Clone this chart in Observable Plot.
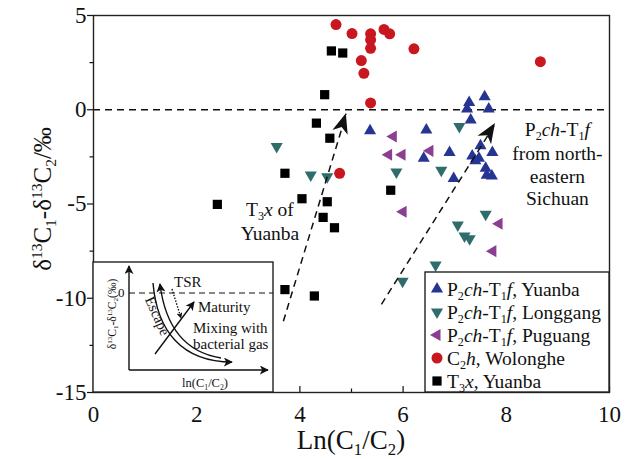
<!DOCTYPE html>
<html>
<head>
<meta charset="utf-8">
<script src="https://cdn.jsdelivr.net/npm/d3@7"></script>
<script src="https://cdn.jsdelivr.net/npm/@observablehq/plot@0.6"></script>
<style>
  html, body { margin: 0; padding: 0; background: #fff; }
  #chart svg { display: block; }
</style>
</head>
<body>
<div id="chart"></div>
<script>
// ln(C1/C2) versus δ13C1-δ13C2 for natural gases of the Sichuan Basin
// Each point is [ln(C1/C2), δ13C1-δ13C2 (‰)]

// P2ch-T1f, Yuanba
const yuanbaP2ch = [
  [5.36, -1.12], [6.45, -1.08], [6.40, -2.57], [6.90, -2.27], [6.98, -3.65],
  [7.28, 0.39], [7.58, 0.69], [7.24, 0.04], [7.66, 0.04], [7.31, -0.55],
  [7.50, -1.91], [7.73, -2.27], [7.34, -2.45], [7.47, -2.57], [7.40, -2.71],
  [7.60, -3.10], [7.62, -3.48], [7.72, -3.52]
];
// P2ch-T1f, Longgang
const longgang = [
  [3.55, -1.95], [4.21, -3.46], [4.53, -3.55], [5.87, -3.30], [7.09, -0.89],
  [6.74, -3.21], [7.60, -5.55], [7.06, -6.12], [7.19, -6.70], [7.29, -6.85],
  [6.63, -8.24], [5.99, -9.10]
];
// P2ch-T1f, Puguang
const puguang = [
  [5.81, -1.42], [5.72, -2.39], [5.98, -2.39], [6.52, -2.18], [6.00, -5.41],
  [7.86, -6.05], [7.74, -7.50]
];
// C2h, Wolonghe
const wolonghe = [
  [4.70, 4.52], [5.01, 4.04], [5.37, 4.03], [5.37, 3.71], [5.37, 3.26],
  [5.63, 4.26], [5.74, 4.03], [6.21, 3.23], [5.19, 2.61], [5.24, 1.93],
  [5.37, 0.36], [4.77, -3.37], [8.66, 2.55]
];
// T3x, Yuanba
const yuanbaT3x = [
  [2.40, -5.02], [3.71, -3.37], [4.04, -4.72], [4.53, -4.88], [4.45, -5.71],
  [4.67, -6.26], [4.32, -0.71], [4.58, -1.51], [4.48, 0.80], [4.61, 3.12],
  [4.83, 3.01], [5.76, -4.27], [3.71, -9.54], [4.28, -9.88]
];

// Axis ticks
const xTicks = [0, 2, 4, 6, 8, 10];
const xMinor = [1, 3, 5, 7, 9];
const yTicks = [5, 0, -5, -10, -15];
const yMinor = [2.5, -2.5, -7.5, -12.5];

// Trend arrows [x1, y1, x2, y2]
const trendArrows = [
  [3.68, -11.22, 4.90, -0.21],
  [5.58, -10.32, 7.79, -0.73]
];

// Annotation labels: [x, y of first baseline, lines]
const notes = [
  [3.43, -5.65, [[["T"], ["3", "sub"], ["x", "i"], [" of"]], [["Yuanba"]]]],
  [9.0, -1.4, [[["P"], ["2", "sub"], ["ch", "i"], ["-T"], ["1", "sub"], ["f", "i"]], [["from north-"]], [["eastern"]], [["Sichuan"]]]]
];

const BLUE = "#263592", TEAL = "#2f6d6c", PURPLE = "#8c3f92", RED = "#c8171e", BLACK = "#000";

const series = [
  {data: yuanbaP2ch, symbol: d3.symbolTriangle, rotate: 0, fill: BLUE, r: 4.5,
   label: [["P"], ["2", "sub"], ["ch", "i"], ["-T"], ["1", "sub"], ["f", "i"], [", Yuanba"]]},
  {data: longgang, symbol: d3.symbolTriangle, rotate: 180, fill: TEAL, r: 4.5,
   label: [["P"], ["2", "sub"], ["ch", "i"], ["-T"], ["1", "sub"], ["f", "i"], [", Longgang"]]},
  {data: puguang, symbol: d3.symbolTriangle, rotate: -90, fill: PURPLE, r: 4.5,
   label: [["P"], ["2", "sub"], ["ch", "i"], ["-T"], ["1", "sub"], ["f", "i"], [", Puguang"]]},
  {data: wolonghe, symbol: d3.symbolCircle, rotate: 0, fill: RED, r: 5.5,
   label: [["C"], ["2", "sub"], ["h", "i"], [", Wolonghe"]]},
  {data: yuanbaT3x, symbol: d3.symbolSquare, rotate: 0, fill: BLACK, r: 5.2,
   label: [["T"], ["3", "sub"], ["x", "i"], [", Yuanba"]]}
];

const FONT = "'Liberation Serif', 'Times New Roman', serif";

const plot = Plot.plot({
  width: 636,
  height: 459,
  marginLeft: 93,
  marginRight: 27,
  marginTop: 15,
  marginBottom: 67,
  style: {fontFamily: FONT, fontSize: "23px", color: "#111", background: "#fff"},
  x: {domain: [0, 10]},
  y: {domain: [-15, 5]},
  marks: [
    Plot.ruleY([0], {stroke: "#111", strokeWidth: 1.3, strokeDasharray: "7,5"}),
    ...series.map(s => Plot.dot(s.data, {
      x: d => d[0], y: d => d[1], symbol: s.symbol, rotate: s.rotate,
      fill: s.fill, r: s.r, stroke: "none"
    })),
    Plot.link(trendArrows, {
      x1: d => d[0], y1: d => d[1], x2: d => d[2], y2: d => d[3],
      stroke: "#111", strokeWidth: 1.5, strokeDasharray: "7,5"
    }),
    Plot.frame({stroke: "#222", strokeWidth: 1.4}),
    Plot.axisX(xTicks, {tickSize: -6, text: null, strokeWidth: 1.2}),
    Plot.axisX(xMinor, {tickSize: -3.5, text: null, strokeWidth: 1.2}),
    Plot.axisX(xTicks, {tickSize: 0, tickPadding: 13, tickFormat: d => String(d), label: null, fontSize: 23}),
    Plot.axisY(yTicks, {tickSize: 6, tickPadding: 1, tickFormat: d => String(d), label: null, fontSize: 23, strokeWidth: 1.2}),
    Plot.axisY(yMinor, {tickSize: 3.5, text: null, label: null, strokeWidth: 1.2})
  ]
});

document.getElementById("chart").appendChild(plot);

const svg = d3.select(plot);
const sx = plot.scale("x"), sy = plot.scale("y");

// Write a line of mixed text: plain, italic, subscript and superscript runs
function rich(textSel, parts, size) {
  let shift = 0;
  for (const [t, st] of parts) {
    const target = st === "sub" ? size * 0.21 : st === "sup" ? -size * 0.36 : 0;
    const ts = textSel.append("tspan").text(t).attr("dy", target - shift);
    shift = target;
    if (st === "sub" || st === "sup") ts.attr("font-size", size * 0.62);
    if (st === "i") ts.attr("font-style", "italic");
  }
}

// Arrowheads at the ends of the trend arrows
for (const [x1, y1, x2, y2] of trendArrows) {
  const px1 = sx.apply(x1), py1 = sy.apply(y1), px2 = sx.apply(x2), py2 = sy.apply(y2);
  const ang = Math.atan2(py2 - py1, px2 - px1) * 180 / Math.PI;
  svg.append("path")
    .attr("d", "M0,0 L-20,-8 L-14.5,0 L-20,8 Z")
    .attr("fill", "#111")
    .attr("transform", `translate(${px2},${py2}) rotate(${ang})`);
}

// Annotation text: a wider gap follows a line that carries subscripts
notes.forEach(([x, y, lines]) => {
  const size = 19.5;
  let yy = sy.apply(y);
  lines.forEach((parts) => {
    const t = svg.append("text")
      .attr("font-family", FONT).attr("font-size", size).attr("fill", "#111")
      .attr("text-anchor", "middle").attr("x", sx.apply(x)).attr("y", yy);
    rich(t, parts, size);
    yy += parts.some(p => p[1] === "sub") ? 24.5 : 22.5;
  });
});

// Axis titles
const xt = svg.append("text").attr("font-family", FONT).attr("font-size", 27).attr("fill", "#111")
  .attr("text-anchor", "middle").attr("x", 351).attr("y", 449);
rich(xt, [["Ln(C"], ["1", "sub"], ["/C"], ["2", "sub"], [")"]], 27);

const yt = svg.append("text").attr("font-family", FONT).attr("font-size", 25).attr("fill", "#111")
  .attr("text-anchor", "middle").attr("transform", "translate(51,199) rotate(-90)");
rich(yt, [["δ"], ["13", "sup"], ["C"], ["1", "sub"], ["-δ"], ["13", "sup"], ["C"], ["2", "sub"], ["/‰"]], 25);

// Legend
const lg = svg.append("g").attr("text-anchor", "start");
lg.append("rect").attr("x", 425).attr("y", 272).attr("width", 184).attr("height", 120)
  .attr("fill", "#fff").attr("stroke", "#222").attr("stroke-width", 1.4);
series.forEach((s, i) => {
  const cy = 289 + i * 23;
  lg.append("path")
    .attr("d", d3.symbol(s.symbol, Math.PI * s.r * s.r)())
    .attr("fill", s.fill)
    .attr("transform", `translate(437,${cy}) rotate(${s.rotate})`);
  const t = lg.append("text").attr("font-family", FONT).attr("font-size", 19.5).attr("fill", "#111")
    .attr("text-anchor", "start").attr("x", 447).attr("y", cy + 6.5);
  rich(t, s.label, 19.5);
});

// Inset: schematic of the processes shifting the isotope values
const ins = svg.append("g").attr("font-family", FONT).attr("fill", "#111").attr("text-anchor", "start");
ins.append("rect").attr("x", 93).attr("y", 262).attr("width", 180).attr("height", 130)
  .attr("fill", "#fff").attr("stroke", "#222").attr("stroke-width", 1.4);
const defs = svg.append("defs");
defs.append("marker").attr("id", "ah").attr("viewBox", "0 0 10 10").attr("refX", 9).attr("refY", 5)
  .attr("markerWidth", 9).attr("markerHeight", 9).attr("markerUnits", "userSpaceOnUse").attr("orient", "auto")
  .append("path").attr("d", "M0,0 L10,5 L0,10 L2.5,5 Z").attr("fill", "#111");
defs.append("marker").attr("id", "ahs").attr("viewBox", "0 0 10 10").attr("refX", 9).attr("refY", 5)
  .attr("markerWidth", 6).attr("markerHeight", 6).attr("markerUnits", "userSpaceOnUse").attr("orient", "auto")
  .append("path").attr("d", "M0,0 L10,5 L0,10 L2.5,5 Z").attr("fill", "#111");
const line = (d, extra = {}) => {
  const p = ins.append("path").attr("d", d).attr("fill", "none").attr("stroke", "#111").attr("stroke-width", 1.4);
  for (const k in extra) p.attr(k, extra[k]);
  return p;
};
line("M129,370 L129,266", {"marker-end": "url(#ah)"});
line("M129,370 L268,370", {"marker-end": "url(#ah)"});
line("M129,293 L273,293", {"stroke-dasharray": "6,4", "stroke-width": 1.1});
line("M172,289 L181,318", {"stroke-dasharray": "1.5,1.5", "marker-end": "url(#ahs)"});
line("M155,354 L194,302", {"marker-end": "url(#ah)"});
line("M221,358 C190,353 166,333 160,284", {"marker-end": "url(#ah)"});
line("M153,283 C157,331 182,362 232,362", {"marker-end": "url(#ah)"});
const itext = (x, y, size, s) => ins.append("text").attr("x", x).attr("y", y).attr("font-size", size)
  .attr("text-anchor", "start").text(s);
itext(118, 297, 13, "0");
itext(174, 287, 15, "TSR");
itext(198, 312, 15, "Maturity");
itext(193, 333, 15, "Mixing with");
itext(193, 349, 15, "bacterial gas");
ins.append("text").attr("font-size", 14.5).attr("text-anchor", "middle")
  .attr("transform", "translate(153,318) rotate(66)").text("Escape");
const ixl = ins.append("text").attr("x", 205).attr("y", 387).attr("font-size", 12.5).attr("text-anchor", "middle");
rich(ixl, [["ln(C"], ["1", "sub"], ["/C"], ["2", "sub"], [")"]], 12.5);
const iyl = ins.append("text").attr("font-size", 11.5).attr("text-anchor", "middle")
  .attr("transform", "translate(116,314) rotate(-90)");
rich(iyl, [["δ"], ["13", "sup"], ["C"], ["1", "sub"], ["-δ"], ["13", "sup"], ["C"], ["2", "sub"], ["(‰)"]], 11.5);
</script>
</body>
</html>
